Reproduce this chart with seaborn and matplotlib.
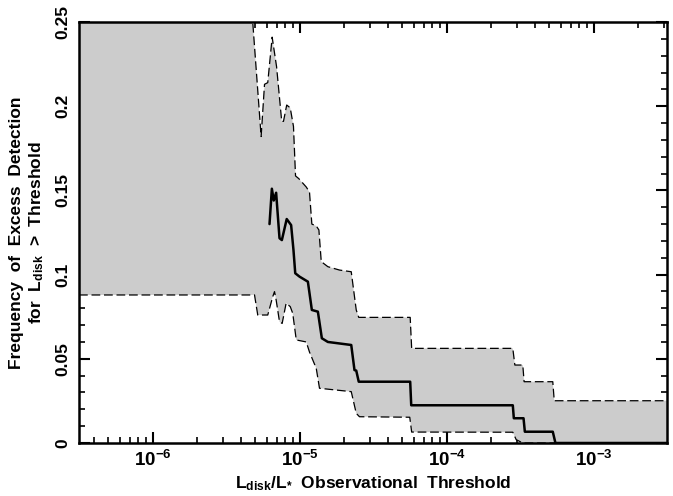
import numpy as np
import pandas as pd
import seaborn as sns
import matplotlib
matplotlib.use("Agg")
import matplotlib.pyplot as plt
from matplotlib.ticker import (LogLocator, MultipleLocator, FixedLocator, FixedFormatter,
                               FuncFormatter)

# ---- data (x as log10 of L_disk/L_*) ----
up_logx = [-6.5, -5.335, -5.261, -5.238, -5.216, -5.186, -5.156, -5.121, -5.109, -5.087,
           -5.063, -5.041, -5.027, -5.005, -4.954, -4.932, -4.916, -4.886, -4.868, -4.852,
           -4.807, -4.728, -4.648, -4.614, -4.597, -4.247, -4.237, -3.549, -3.535, -3.481,
           -3.472, -3.277, -3.267, -2.5]
up_val = [0.27, 0.27, 0.182, 0.213, 0.214, 0.241, 0.2235, 0.191, 0.191, 0.2007,
          0.199, 0.188, 0.1586, 0.157, 0.152, 0.149, 0.130, 0.1289, 0.1265, 0.1077,
          0.1047, 0.1027, 0.1017, 0.079, 0.0746, 0.0746, 0.0562, 0.0562, 0.0463, 0.0463,
          0.0364, 0.0364, 0.0251, 0.0251]

lo_logx = [-6.5, -5.306, -5.284, -5.216, -5.182, -5.170, -5.159, -5.136, -5.118, -5.091,
           -5.063, -5.046, -5.022, -4.954, -4.932, -4.886, -4.864, -4.648, -4.614, -4.592,
           -4.25, -4.237, -3.549, -3.526, -3.481, -2.5]
lo_val = [0.0879, 0.0879, 0.076, 0.076, 0.0869, 0.0899, 0.085, 0.072, 0.071, 0.083,
          0.081, 0.077, 0.0612, 0.060, 0.054, 0.0443, 0.0325, 0.0305, 0.0176, 0.0156,
          0.0153, 0.0065, 0.0064, 0.002, 0.0, 0.0]

mid_logx = [-5.204, -5.188, -5.175, -5.159, -5.136, -5.120, -5.087, -5.057, -5.041, -5.029,
            -5.0, -4.943, -4.916, -4.875, -4.848, -4.807, -4.648, -4.626, -4.614, -4.597,
            -4.247, -4.240, -3.549, -3.542, -3.476, -3.467, -3.277, -3.259, -2.5]
mid_val = [0.130, 0.151, 0.144, 0.1486, 0.1216, 0.1205, 0.133, 0.1294, 0.1146, 0.1008,
           0.0988, 0.0958, 0.079, 0.078, 0.0622, 0.060, 0.0582, 0.0433, 0.043, 0.0364,
           0.0364, 0.0224, 0.0224, 0.0147, 0.0147, 0.0067, 0.0067, 0.0, 0.0]

y_ticks = [0, 0.05, 0.1, 0.15, 0.2, 0.25]
y_ticklabels = ["0", "0.05", "0.1", "0.15", "0.2", "0.25"]

sns.set_style("ticks")
plt.rcParams['font.family'] = ['Liberation Sans', 'DejaVu Sans']
plt.rcParams['font.weight'] = 'bold'
plt.rcParams['mathtext.fontset'] = 'custom'
plt.rcParams['mathtext.rm'] = 'Liberation Sans:bold'
plt.rcParams['mathtext.it'] = 'Liberation Sans:bold'
plt.rcParams['mathtext.bf'] = 'Liberation Sans:bold'
plt.rcParams['mathtext.default'] = 'bf'
plt.rcParams['text.color'] = 'black'
plt.rcParams['axes.labelcolor'] = 'black'
plt.rcParams['xtick.color'] = 'black'
plt.rcParams['ytick.color'] = 'black'

fig = plt.figure(figsize=(6.73, 4.96), dpi=100)
ax = fig.add_axes([79/673, 1-443/496, (667-79)/673, (443-22)/496])

upx = 10 ** np.array(up_logx)
lox = 10 ** np.array(lo_logx)
ax.fill(np.concatenate([upx, lox[::-1]]), np.concatenate([up_val, lo_val[::-1]]),
        color="#cccccc", lw=0, zorder=1)

up_df = pd.DataFrame({"x": upx, "y": up_val})
lo_df = pd.DataFrame({"x": lox, "y": lo_val})
mid_df = pd.DataFrame({"x": 10 ** np.array(mid_logx), "y": mid_val})

sns.lineplot(data=up_df, x="x", y="y", ax=ax, color="black", lw=0.9, sort=False,
             zorder=2).lines[-1].set_dashes([7, 3])
sns.lineplot(data=lo_df, x="x", y="y", ax=ax, color="black", lw=0.9, sort=False,
             zorder=2).lines[-1].set_dashes([7, 3])
sns.lineplot(data=mid_df, x="x", y="y", ax=ax, color="black", lw=1.8, sort=False, zorder=3)

ax.set_xscale("log")
ax.set_xlim(10 ** -6.5, 10 ** -2.5)
ax.set_ylim(0, 0.25)

ax.xaxis.set_major_locator(LogLocator(base=10, numticks=10))
ax.xaxis.set_minor_locator(LogLocator(base=10, subs=np.arange(2, 10), numticks=20))
ax.xaxis.set_major_formatter(FuncFormatter(lambda v, p: r"$10^{%d}$" % round(np.log10(v))))
ax.yaxis.set_major_locator(FixedLocator(y_ticks))
ax.yaxis.set_major_formatter(FixedFormatter(y_ticklabels))
ax.yaxis.set_minor_locator(MultipleLocator(0.01))

for s in ax.spines.values():
    s.set_linewidth(1.8)
    s.set_color("black")
    s.set_visible(True)

ax.tick_params(which="both", direction="in", top=True, right=True, color="black",
               labelcolor="black")
ax.tick_params(which="major", length=8, width=1.5, labelsize=12.5, pad=6)
ax.tick_params(which="minor", length=4, width=1.2)
ax.tick_params(axis="x", which="major", labelsize=13.5, pad=5)
for lab in ax.get_yticklabels():
    lab.set_rotation(90)
    lab.set_va("center")
    lab.set_fontweight("bold")

ax.set_xlabel(r"L$_{\mathrm{disk}}$/L$_{*}$  Observational  Threshold", fontsize=12.5,
              labelpad=3, fontweight="bold", color="black")
ax.set_ylabel("Frequency  of  Excess  Detection\n" + r"for  L$_{\mathrm{disk}}$  >  Threshold",
              fontsize=12.5, labelpad=7, linespacing=1.25, fontweight="bold", color="black")

fig.savefig("out.png", dpi=100)
